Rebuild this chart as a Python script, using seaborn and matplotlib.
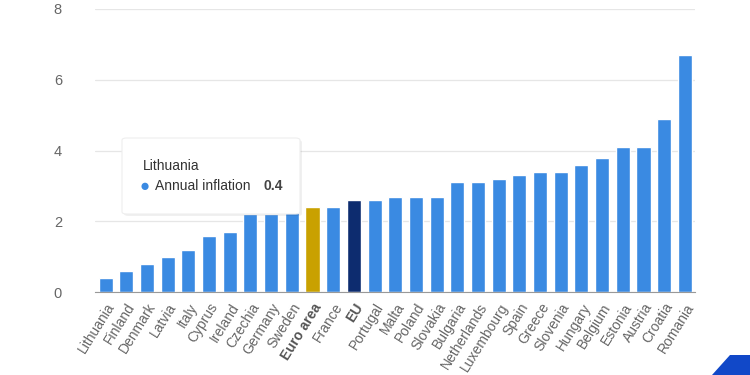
import matplotlib
matplotlib.use("Agg")
import matplotlib.pyplot as plt
import seaborn as sns
import pandas as pd
from matplotlib.patches import FancyBboxPatch, Polygon
from matplotlib.ticker import FixedLocator

# Data
countries = ["Lithuania", "Finland", "Denmark", "Latvia", "Italy", "Cyprus", "Ireland",
             "Czechia", "Germany", "Sweden", "Euro area", "France", "EU", "Portugal",
             "Malta", "Poland", "Slovakia", "Bulgaria", "Netherlands", "Luxembourg",
             "Spain", "Greece", "Slovenia", "Hungary", "Belgium", "Estonia", "Austria",
             "Croatia", "Romania"]
inflation = [0.4, 0.6, 0.8, 1.0, 1.2, 1.6, 1.7,
             2.2, 2.2, 2.3, 2.4, 2.4, 2.6, 2.6,
             2.7, 2.7, 2.7, 3.1, 3.1, 3.2,
             3.3, 3.4, 3.4, 3.6, 3.8, 4.1, 4.1,
             4.9, 6.7]
yticks = [0, 2, 4, 6, 8]

BLUE = "#3a8ae2"
GOLD = "#c9a100"
NAVY = "#0d2c6f"
highlight = {"Euro area": GOLD, "EU": NAVY}

df = pd.DataFrame({"country": countries, "value": inflation})
palette = {c: highlight.get(c, BLUE) for c in countries}

sns.set_style("white")
plt.rcParams["font.family"] = ["Liberation Sans", "DejaVu Sans"]

fig = plt.figure(figsize=(7.5, 3.75), dpi=100)
ax = fig.add_axes([0.127, 0.221, 0.8, 0.755])

sns.barplot(data=df, x="country", y="value", hue="country", palette=palette,
            legend=False, width=0.68, saturation=1, ax=ax)

ax.set_ylim(0, 8)
ax.set_xlim(-0.5, len(countries) - 0.5)
ax.set_yticks(yticks)
ax.set_yticklabels([str(t) for t in yticks], color="#666666", fontsize=10.5)
ax.tick_params(axis="y", length=0, pad=24)
ax.yaxis.grid(True, color="#e6e6e6", linewidth=0.9)
ax.set_axisbelow(True)
for s in ["top", "right", "left"]:
    ax.spines[s].set_visible(False)
ax.spines["bottom"].set_color("#999999")

ax.set_xticks(range(len(countries)))
ax.set_xticklabels(countries, rotation=58, ha="right", rotation_mode="anchor",
                   color="#666666", fontsize=10)
for lbl in ax.get_xticklabels():
    if lbl.get_text() in highlight:
        lbl.set_fontweight("bold")
        lbl.set_color("#555555")
ax.tick_params(axis="x", which="major", length=0, pad=6)
ax.xaxis.set_minor_locator(FixedLocator([i - 0.5 for i in range(len(countries) + 1)]))
ax.tick_params(axis="x", which="minor", length=5, color="#999999", width=0.9)
ax.set_xlabel("")
ax.set_ylabel("")

# tooltip
shadow = FancyBboxPatch((124 / 750, 1 - 216 / 375), 178 / 750, 76 / 375,
                        boxstyle="round,pad=0,rounding_size=0.006",
                        transform=fig.transFigure, facecolor="#000000", alpha=0.06,
                        edgecolor="none", zorder=9)
box = FancyBboxPatch((122 / 750, 1 - 214 / 375), 178 / 750, 76 / 375,
                     boxstyle="round,pad=0,rounding_size=0.006",
                     transform=fig.transFigure, facecolor="white",
                     edgecolor="#eeeeee", linewidth=0.8, zorder=10)
fig.patches.extend([shadow, box])
fig.text(143 / 750, 1 - 166 / 375, countries[0], fontsize=10, color="#333333",
         va="center", zorder=11)
fig.text(140 / 750, 1 - 186 / 375, "\u25CF", fontsize=12, color=BLUE, va="center", zorder=11)
fig.text(155 / 750, 1 - 186 / 375, "Annual inflation", fontsize=10, color="#333333",
         va="center", zorder=11)
fig.text(263 / 750, 1 - 186 / 375, f"{inflation[0]}", fontsize=10, color="#444444",
         fontweight="bold", va="center", zorder=11)

# corner decoration
corner = Polygon([(730 / 750, 1 - 355 / 375), (750 / 750, 1 - 355 / 375),
                  (750 / 750, 1 - 375 / 375), (712 / 750, 1 - 375 / 375)],
                 closed=True, transform=fig.transFigure, facecolor="#1148c8",
                 edgecolor="none")
fig.patches.append(corner)

fig.savefig("out.png", dpi=100)
